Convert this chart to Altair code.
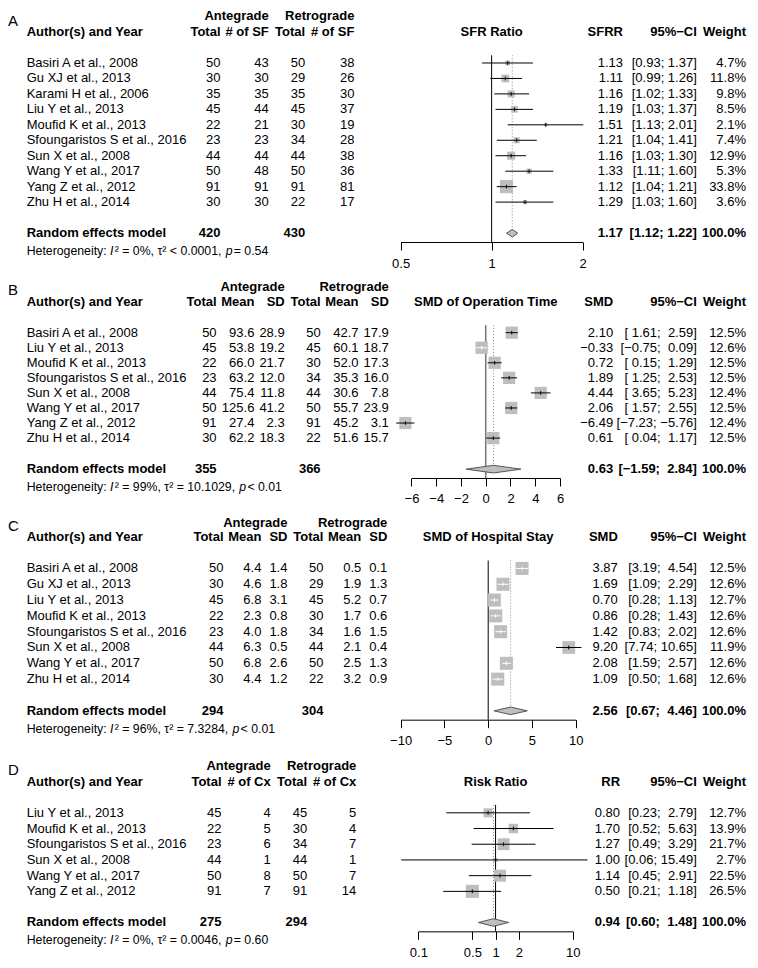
import math
import altair as alt
import pandas as pd

FONT = "Liberation Sans"
NB = "\u00a0"
MINUS = "\u2212"
GREY = "#BEBEBE"

# ---------------- Panel A : stone-free rate ----------------
studies_A = ["Basiri A et al., 2008", "Gu XJ et al., 2013", "Karami H et al., 2006",
             "Liu Y et al., 2013", "Moufid K et al., 2013", "Sfoungaristos S et al., 2016",
             "Sun X et al., 2008", "Wang Y et al., 2017", "Yang Z et al., 2012", "Zhu H et al., 2014"]
ante_total_A = [50, 30, 35, 45, 22, 23, 44, 50, 91, 30]
ante_sf_A = [43, 30, 35, 44, 21, 23, 44, 48, 91, 30]
retro_total_A = [50, 29, 35, 45, 30, 34, 44, 50, 91, 22]
retro_sf_A = [38, 26, 30, 37, 19, 28, 38, 36, 81, 17]
est_A = [1.13, 1.11, 1.16, 1.19, 1.51, 1.21, 1.16, 1.33, 1.12, 1.29]
lo_A = [0.93, 0.99, 1.02, 1.03, 1.13, 1.04, 1.03, 1.11, 1.04, 1.03]
hi_A = [1.37, 1.26, 1.33, 1.37, 2.01, 1.41, 1.30, 1.60, 1.21, 1.60]
weight_A = [4.7, 11.8, 9.8, 8.5, 2.1, 7.4, 12.9, 5.3, 33.8, 3.6]
summary_A = [1.17, 1.12, 1.22]
totals_A = [420, 430]
het_A = [("Heterogeneity: ", False), ("I", True), ("\u00b2 = 0%, \u03c4\u00b2 < 0.0001, ", False),
         ("p", True), (" = 0.54", False)]
ticks_A = [0.5, 1, 2]

# ---------------- Panel B : operation time ----------------
studies_B = ["Basiri A et al., 2008", "Liu Y et al., 2013", "Moufid K et al., 2013",
             "Sfoungaristos S et al., 2016", "Sun X et al., 2008", "Wang Y et al., 2017",
             "Yang Z et al., 2012", "Zhu H et al., 2014"]
ante_total_B = [50, 45, 22, 23, 44, 50, 91, 30]
ante_mean_B = [93.6, 53.8, 66.0, 63.2, 75.4, 125.6, 27.4, 62.2]
ante_sd_B = [28.9, 19.2, 21.7, 12.0, 11.8, 41.2, 2.3, 18.3]
retro_total_B = [50, 45, 30, 34, 44, 50, 91, 22]
retro_mean_B = [42.7, 60.1, 52.0, 35.3, 30.6, 55.7, 45.2, 51.6]
retro_sd_B = [17.9, 18.7, 17.3, 16.0, 7.8, 23.9, 3.1, 15.7]
est_B = [2.10, -0.33, 0.72, 1.89, 4.44, 2.06, -6.49, 0.61]
lo_B = [1.61, -0.75, 0.15, 1.25, 3.65, 1.57, -7.23, 0.04]
hi_B = [2.59, 0.09, 1.29, 2.53, 5.23, 2.55, -5.76, 1.17]
weight_B = [12.5, 12.6, 12.5, 12.5, 12.4, 12.5, 12.4, 12.5]
summary_B = [0.63, -1.59, 2.84]
totals_B = [355, 366]
het_B = [("Heterogeneity: ", False), ("I", True), ("\u00b2 = 99%, \u03c4\u00b2 = 10.1029, ", False),
         ("p", True), (" < 0.01", False)]
ticks_B = [-6, -4, -2, 0, 2, 4, 6]

# ---------------- Panel C : hospital stay ----------------
studies_C = ["Basiri A et al., 2008", "Gu XJ et al., 2013", "Liu Y et al., 2013",
             "Moufid K et al., 2013", "Sfoungaristos S et al., 2016", "Sun X et al., 2008",
             "Wang Y et al., 2017", "Zhu H et al., 2014"]
ante_total_C = [50, 30, 45, 22, 23, 44, 50, 30]
ante_mean_C = [4.4, 4.6, 6.8, 2.3, 4.0, 6.3, 6.8, 4.4]
ante_sd_C = [1.4, 1.8, 3.1, 0.8, 1.8, 0.5, 2.6, 1.2]
retro_total_C = [50, 29, 45, 30, 34, 44, 50, 22]
retro_mean_C = [0.5, 1.9, 5.2, 1.7, 1.6, 2.1, 2.5, 3.2]
retro_sd_C = [0.1, 1.3, 0.7, 0.6, 1.5, 0.4, 1.3, 0.9]
est_C = [3.87, 1.69, 0.70, 0.86, 1.42, 9.20, 2.08, 1.09]
lo_C = [3.19, 1.09, 0.28, 0.28, 0.83, 7.74, 1.59, 0.50]
hi_C = [4.54, 2.29, 1.13, 1.43, 2.02, 10.65, 2.57, 1.68]
weight_C = [12.5, 12.6, 12.7, 12.6, 12.6, 11.9, 12.6, 12.6]
summary_C = [2.56, 0.67, 4.46]
totals_C = [294, 304]
het_C = [("Heterogeneity: ", False), ("I", True), ("\u00b2 = 96%, \u03c4\u00b2 = 7.3284, ", False),
         ("p", True), (" < 0.01", False)]
ticks_C = [-10, -5, 0, 5, 10]

# ---------------- Panel D : complications ----------------
studies_D = ["Liu Y et al., 2013", "Moufid K et al., 2013", "Sfoungaristos S et al., 2016",
             "Sun X et al., 2008", "Wang Y et al., 2017", "Yang Z et al., 2012"]
ante_total_D = [45, 22, 23, 44, 50, 91]
ante_cx_D = [4, 5, 6, 1, 8, 7]
retro_total_D = [45, 30, 34, 44, 50, 91]
retro_cx_D = [5, 4, 7, 1, 7, 14]
est_D = [0.80, 1.70, 1.27, 1.00, 1.14, 0.50]
lo_D = [0.23, 0.52, 0.49, 0.06, 0.45, 0.21]
hi_D = [2.79, 5.63, 3.29, 15.49, 2.91, 1.18]
weight_D = [12.7, 13.9, 21.7, 2.7, 22.5, 26.5]
summary_D = [0.94, 0.60, 1.48]
totals_D = [275, 294]
het_D = [("Heterogeneity: ", False), ("I", True), ("\u00b2 = 0%, \u03c4\u00b2 = 0.0046, ", False),
         ("p", True), (" = 0.60", False)]
ticks_D = [0.1, 0.5, 1, 2, 10]

# ---------------- layout helpers ----------------
KX = 0.984
KY = 0.982
W = 740
HET_SIZE = 12.3


def fx(ref):
    return (ref - 3.0) * KX


CW = {" ": 278, "H": 722, "e": 556, "t": 278, "r": 333, "o": 556, "g": 556, "n": 556,
      "i": 222, "y": 500, ":": 278, "I": 278, "\u00b2": 333, "=": 584, "%": 889, ",": 278,
      "\u03c4": 460, "<": 584, ".": 278, "p": 556}


def text_w(s, size):
    return sum(CW.get(c, 556) for c in s) * size / 1000.0


def i_str(v):
    return [str(x) for x in v]


def f1(v):
    return [f"{x:.1f}" for x in v]


def f2(x):
    return f"{x:.2f}".replace("-", MINUS)


def ci_strings(lo, hi, slo, shi):
    los = [f2(x) for x in lo] + [f2(slo)]
    his = [f2(x) for x in hi] + [f2(shi)]
    ml = max(len(s) for s in los)
    mh = max(len(s) for s in his)
    out = []
    for a, b in zip(los, his):
        out.append("[" + NB * (ml - len(a)) + a + ";" + NB + NB * (mh - len(b)) + b + "]")
    return out


def txt(texts, rows, x, ys, align="left", bold=False, italic=False, size=13):
    df = pd.DataFrame({"t": [str(t) for t in texts], "r": rows})
    return alt.Chart(df).mark_text(
        align=align, baseline="middle", font=FONT, fontSize=size,
        fontWeight="bold" if bold else "normal",
        fontStyle="italic" if italic else "normal", color="black"
    ).encode(x=alt.value(x), y=alt.Y("r:Q", scale=ys, axis=None), text=alt.Text("t:N"))


panels = [
    dict(letter="A", studies=studies_A,
         cols=[("Total", i_str(ante_total_A), 219), ("# of SF", i_str(ante_sf_A), 268),
               ("Total", i_str(retro_total_A), 305), ("# of SF", i_str(retro_sf_A), 355)],
         groups=[("Antegrade", 268), ("Retrograde", 355)], totals=list(zip(totals_A, [219, 305])),
         est=est_A, lo=lo_A, hi=hi_A, w=weight_A, summary=summary_A, het=het_A,
         title="SFR Ratio", est_header="SFRR", stype="log", domain=[0.5, 2], rng=[402, 587],
         ticks=ticks_A, fmt="~g", null=1, est_x=628, ci_x=703, w_x=753, vcol="black", vw=1, side=13.3,
         top=-1.0, h1=7.3, h2=23.3, first=55, s=15.74, random=228.3, het_y=246.5, axis=237.3, letter_y=12),
    dict(letter="B", studies=studies_B,
         cols=[("Total", i_str(ante_total_B), 215), ("Mean", f1(ante_mean_B), 253.4),
               ("SD", f1(ante_sd_B), 284.2), ("Total", i_str(retro_total_B), 320.7),
               ("Mean", f1(retro_mean_B), 359.2), ("SD", f1(retro_sd_B), 390)],
         groups=[("Antegrade", 284.2), ("Retrograde", 390)], totals=list(zip(totals_B, [215, 320.7])),
         est=est_B, lo=lo_B, hi=hi_B, w=weight_B, summary=summary_B, het=het_B,
         title="SMD of Operation Time", est_header="SMD", stype="linear", domain=[-6, 6],
         rng=[413, 564], ticks=ticks_B, fmt="d", null=0, est_x=618, ci_x=703, w_x=753, vcol="#7a7a7a",
         vw=1.6, side=12.5,
         top=276.8, h1=283.3, h2=298.3, first=329.3, s=15.34, random=468.3, het_y=486.7, axis=477.3,
         letter_y=286),
    dict(letter="C", studies=studies_C,
         cols=[("Total", i_str(ante_total_C), 222), ("Mean", f1(ante_mean_C), 260.5),
               ("SD", f1(ante_sd_C), 287), ("Total", i_str(retro_total_C), 323.5),
               ("Mean", f1(retro_mean_C), 362), ("SD", f1(retro_sd_C), 388.5)],
         groups=[("Antegrade", 287), ("Retrograde", 388.5)], totals=list(zip(totals_C, [222, 323.5])),
         est=est_C, lo=lo_C, hi=hi_C, w=weight_C, summary=summary_C, het=het_C,
         title="SMD of Hospital Stay", est_header="SMD", stype="linear", domain=[-10, 10],
         rng=[402, 580], ticks=ticks_C, fmt="d", null=0, est_x=622.7, ci_x=703, w_x=753, vcol="black",
         vw=1, side=13.3,
         top=516.8, h1=523.3, h2=538.3, first=570, s=16.1, random=715, het_y=733.3, axis=724,
         letter_y=527),
    dict(letter="D", studies=studies_D,
         cols=[("Total", i_str(ante_total_D), 220), ("# of Cx", i_str(ante_cx_D), 270),
               ("Total", i_str(retro_total_D), 307), ("# of Cx", i_str(retro_cx_D), 357)],
         groups=[("Antegrade", 270), ("Retrograde", 357)], totals=list(zip(totals_D, [220, 307])),
         est=est_D, lo=lo_D, hi=hi_D, w=weight_D, summary=summary_D, het=het_D,
         title="Risk Ratio", est_header="RR", stype="log", domain=[0.1, 10], rng=[420, 577],
         ticks=ticks_D, fmt="~g", null=1, est_x=625, ci_x=703, w_x=753, vcol="black", vw=1, side=13.3,
         top=763.5, h1=771.7, h2=787.3, first=819, s=16.0, random=930.7, het_y=948.3, axis=939.7,
         letter_y=775),
]


def scale_fn(p):
    r0, r1 = fx(p["rng"][0]), fx(p["rng"][1])
    a, b = p["domain"]
    if p["stype"] == "log":
        a, b = math.log10(a), math.log10(b)
        return lambda v: r0 + (math.log10(v) - a) / (b - a) * (r1 - r0)
    return lambda v: r0 + (v - a) / (b - a) * (r1 - r0)


def build_panel(p):
    s, first, top, axis_y = p["s"], p["first"], p["top"], p["axis"]
    h = KY * (axis_y - top)

    def R(ref):
        return (ref - first) / s

    ys = alt.Scale(domain=[R(top), R(axis_y)], range=[0, h], nice=False, zero=False)
    n = len(p["studies"])
    rows = list(range(n))
    rr = R(p["random"])
    layers = []

    # ---- left table ----
    layers.append(txt([p["letter"]], [R(p["letter_y"])], 0, ys, size=15))
    for label, xr in p["groups"]:
        layers.append(txt([label], [R(p["h1"])], fx(xr), ys, align="right", bold=True))
    layers.append(txt(["Author(s) and Year"], [R(p["h2"])], fx(22), ys, bold=True))
    layers.append(txt(p["studies"], rows, fx(22), ys))
    for header, vals, xr in p["cols"]:
        layers.append(txt([header], [R(p["h2"])], fx(xr), ys, align="right", bold=True))
        layers.append(txt(vals, rows, fx(xr), ys, align="right"))
    layers.append(txt(["Random effects model"], [rr], fx(22), ys, bold=True))
    for val, xr in p["totals"]:
        layers.append(txt([val], [rr], fx(xr), ys, align="right", bold=True))
    # heterogeneity line with italic I and p
    off = 0.0
    for seg, ital in p["het"]:
        t = seg.replace(" ", NB)
        layers.append(txt([t], [R(p["het_y"])], fx(22) + off, ys, italic=ital, size=HET_SIZE))
        off += text_w(seg, HET_SIZE) + (1.2 if ital else 0.0)

    # ---- right table ----
    se, sl, sh = p["summary"]
    cis = ci_strings(p["lo"], p["hi"], sl, sh)
    layers.append(txt([p["est_header"]], [R(p["h2"])], fx(p["est_x"]), ys, align="right", bold=True))
    layers.append(txt(["95%" + MINUS + "CI"], [R(p["h2"])], fx(p["ci_x"]), ys, align="right", bold=True))
    layers.append(txt(["Weight"], [R(p["h2"])], fx(p["w_x"]), ys, align="right", bold=True))
    layers.append(txt([f2(v) for v in p["est"]], rows, fx(p["est_x"]), ys, align="right"))
    layers.append(txt(cis[:-1], rows, fx(p["ci_x"]), ys, align="right"))
    layers.append(txt([f"{v:.1f}%" for v in p["w"]], rows, fx(p["w_x"]), ys, align="right"))
    layers.append(txt([f2(se)], [rr], fx(p["est_x"]), ys, align="right", bold=True))
    layers.append(txt([cis[-1]], [rr], fx(p["ci_x"]), ys, align="right", bold=True))
    layers.append(txt(["100.0%"], [rr], fx(p["w_x"]), ys, align="right", bold=True))

    # ---- forest ----
    ctr = (fx(p["rng"][0]) + fx(p["rng"][1])) / 2
    layers.append(txt([p["title"]], [R(p["h2"])], ctr, ys, align="center", bold=True))

    xs = alt.Scale(type=p["stype"], domain=p["domain"], range=[fx(p["rng"][0]), fx(p["rng"][1])],
                   nice=False, zero=False)
    xa = alt.Axis(values=p["ticks"], format=p["fmt"], grid=False, title=None, domainColor="black",
                  domainWidth=1, tickColor="black", tickWidth=1, tickSize=8, labelPadding=7,
                  labelFont=FONT, labelFontSize=13, labelColor="black", labelOverlap=False,
                  labelFlush=False)

    def X(f):
        return alt.X(f + ":Q", scale=xs, axis=xa, title=None)

    def Y(f):
        return alt.Y(f + ":Q", scale=ys, axis=None)

    sf = scale_fn(p)
    side = p["side"] * KX
    wmax = max(p["w"])
    cols = []
    for e, a, b, w in zip(p["est"], p["lo"], p["hi"], p["w"]):
        sq = side * math.sqrt(w / wmax)
        cols.append("white" if abs(sf(b) - sf(a)) < 0.97 * sq else "black")
    d = 3.8 / (s * KY)

    fdf = pd.DataFrame({"x": p["est"], "lo": p["lo"], "hi": p["hi"], "w": p["w"], "r": rows,
                        "rt": [r - 0.12 for r in rows], "rb": [r + 0.12 for r in rows], "c": cols})

    # null line
    layers.append(alt.Chart(pd.DataFrame({"x": [p["null"]], "y": [-0.5], "y2": [R(axis_y)]}))
                  .mark_rule(color=p["vcol"], strokeWidth=p["vw"])
                  .encode(x=X("x"), y=Y("y"), y2="y2:Q"))
    # dotted summary line
    layers.append(alt.Chart(pd.DataFrame({"x": [se], "y": [-0.5], "y2": [rr - d]}))
                  .mark_rule(color="#8a8a8a", strokeWidth=1, strokeDash=[1, 2])
                  .encode(x=X("x"), y=Y("y"), y2="y2:Q"))
    # squares (area proportional to weight)
    layers.append(alt.Chart(fdf).mark_square(filled=True, color=GREY, opacity=1, strokeWidth=0)
                  .encode(x=X("x"), y=Y("r"),
                          size=alt.Size("w:Q", scale=alt.Scale(domain=[0, wmax], range=[0, side * side],
                                                               nice=False, zero=True),
                                        legend=None)))
    # CI lines
    layers.append(alt.Chart(fdf).mark_rule(strokeWidth=1)
                  .encode(x=alt.X("lo:Q", scale=xs, axis=xa, title=None), x2="hi:Q", y=Y("r"),
                          color=alt.Color("c:N", scale=None)))
    # small estimate ticks
    layers.append(alt.Chart(fdf).mark_rule(strokeWidth=1)
                  .encode(x=X("x"), y=Y("rt"), y2="rb:Q", color=alt.Color("c:N", scale=None)))
    # diamond
    ddf = pd.DataFrame({"x": [sl, se, sh], "y": [rr, rr - d, rr], "y2": [rr, rr + d, rr]})
    layers.append(alt.Chart(ddf).mark_area(orient="vertical", fill=GREY, stroke="#555555",
                                           strokeWidth=1, opacity=1)
                  .encode(x=X("x"), y=Y("y"), y2="y2:Q"))

    return alt.layer(*layers).properties(width=W, height=h)


charts = [build_panel(p) for p in panels]
chart = (alt.vconcat(*charts, spacing=KY * 38.8, bounds="flush")
         .resolve_scale(size="independent")
         .properties(padding=0)
         .configure_view(strokeWidth=0))

chart.save("out.html", embed_options={"renderer": "svg", "actions": False})
